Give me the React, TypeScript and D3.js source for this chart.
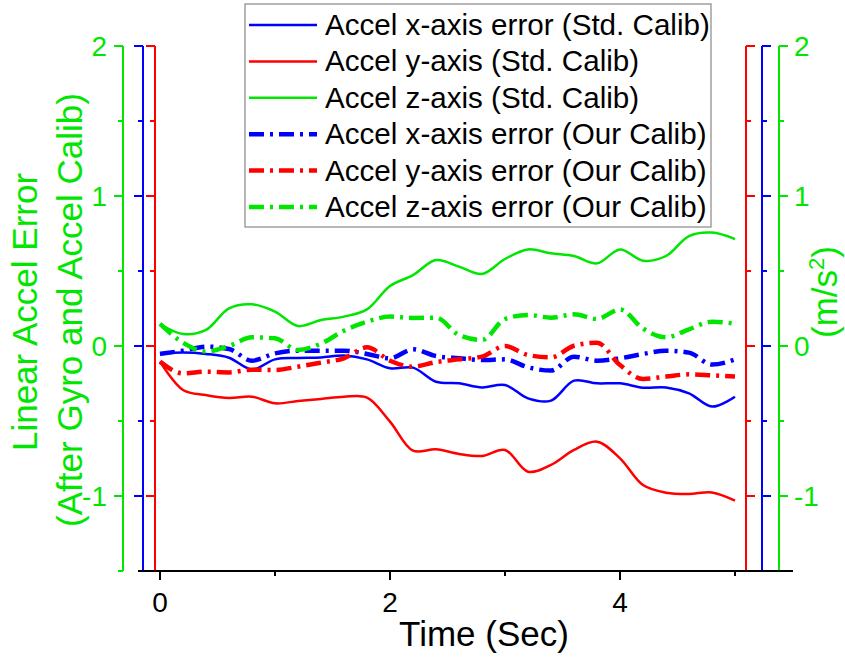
import React from "react";
import * as d3 from "d3";

const TIME = [0, 0.2, 0.4, 0.6, 0.8, 1.0, 1.2, 1.4, 1.6, 1.8, 2.0, 2.2, 2.4, 2.6, 2.8, 3.0, 3.2, 3.4, 3.6, 3.8, 4.0, 4.2, 4.4, 4.6, 4.8, 5.0];

const stdX = [-0.053, -0.044, -0.053, -0.078, -0.156, -0.089, -0.08, -0.076, -0.064, -0.089, -0.149, -0.144, -0.238, -0.249, -0.276, -0.26, -0.349, -0.364, -0.231, -0.249, -0.249, -0.278, -0.276, -0.316, -0.404, -0.338];
const stdY = [-0.104, -0.293, -0.327, -0.347, -0.338, -0.382, -0.367, -0.353, -0.338, -0.344, -0.504, -0.698, -0.689, -0.72, -0.733, -0.693, -0.838, -0.793, -0.693, -0.638, -0.749, -0.927, -0.978, -0.987, -0.976, -1.031];
const stdZ = [0.147, 0.08, 0.107, 0.251, 0.278, 0.229, 0.133, 0.173, 0.196, 0.244, 0.4, 0.473, 0.573, 0.529, 0.48, 0.58, 0.644, 0.618, 0.6, 0.551, 0.644, 0.569, 0.6, 0.733, 0.756, 0.713];
const ourX = [-0.053, -0.031, -0.004, -0.02, -0.098, -0.049, -0.031, -0.031, -0.031, -0.053, -0.082, -0.022, -0.067, -0.082, -0.093, -0.089, -0.142, -0.164, -0.071, -0.098, -0.082, -0.053, -0.031, -0.044, -0.124, -0.089];
const ourY = [-0.104, -0.182, -0.171, -0.176, -0.158, -0.16, -0.138, -0.111, -0.082, -0.009, -0.098, -0.138, -0.107, -0.089, -0.071, 0.0, -0.06, -0.076, 0.002, 0.022, -0.127, -0.22, -0.204, -0.189, -0.196, -0.204];
const ourZ = [0.147, 0.022, -0.036, 0.0, 0.058, 0.051, -0.027, 0.016, 0.102, 0.162, 0.196, 0.187, 0.189, 0.073, 0.04, 0.18, 0.207, 0.189, 0.211, 0.18, 0.244, 0.116, 0.058, 0.111, 0.162, 0.149];

const SERIES_LABELS = [
  "Accel x-axis error (Std. Calib)",
  "Accel y-axis (Std. Calib)",
  "Accel z-axis (Std. Calib)",
  "Accel x-axis error (Our Calib)",
  "Accel y-axis error (Our Calib)",
  "Accel z-axis error (Our Calib)",
];
const SERIES_VALUES = [stdX, stdY, stdZ, ourX, ourY, ourZ];

const Y_MAJOR = [-1, 0, 1, 2];
const Y_MINOR = [-1.5, -0.5, 0.5, 1.5];
const X_MAJOR = [0, 2, 4];
const X_MINOR = [1, 3, 5];

const BLUE = "#0000FF";
const RED = "#FF0000";
const GREEN = "#00E600";
const SERIES_COLORS = [BLUE, RED, GREEN, BLUE, RED, GREEN];
const DASHED = [false, false, false, true, true, true];

const FONT = "'Liberation Sans', Arial, Helvetica, sans-serif";

export default function App() {
  const W = 845;
  const H = 659;
  const x = d3.scaleLinear().domain([0, 5]).range([160, 735]);
  const y = d3.scaleLinear().domain([-1.5, 2]).range([571, 46]);

  const solidLine = d3
    .line<number>()
    .x((_, i) => x(TIME[i]))
    .y((d) => y(d))
    .curve(d3.curveCatmullRom.alpha(0.5));
  const dashLine = d3
    .line<number>()
    .x((_, i) => x(TIME[i]))
    .y((d) => y(d))
    .curve(d3.curveMonotoneX);

  const leftAxes = [
    { ax: 123, color: GREEN, labels: true },
    { ax: 143, color: BLUE, labels: false },
    { ax: 155, color: RED, labels: false },
  ];
  const rightAxes = [
    { ax: 746, color: RED, labels: false },
    { ax: 762, color: BLUE, labels: false },
    { ax: 779, color: GREEN, labels: true },
  ];

  const renderAxis = (a: { ax: number; color: string; labels: boolean }, dir: number, key: string) => (
    <g key={key}>
      <line x1={a.ax} x2={a.ax} y1={y(2)} y2={y(-1.5)} stroke={a.color} strokeWidth={2} />
      {Y_MAJOR.map((v) => (
        <line key={"M" + v} x1={a.ax} x2={a.ax + dir * 9} y1={y(v)} y2={y(v)} stroke={a.color} strokeWidth={2} />
      ))}
      {Y_MINOR.map((v) => (
        <line key={"m" + v} x1={a.ax} x2={a.ax + dir * 5} y1={y(v)} y2={y(v)} stroke={a.color} strokeWidth={2} />
      ))}
      {a.labels &&
        Y_MAJOR.map((v) => (
          <text
            key={"t" + v}
            x={dir < 0 ? a.ax - 16 : a.ax + 15}
            y={y(v) + 10}
            fill={a.color}
            fontSize={28}
            fontFamily={FONT}
            textAnchor={dir < 0 ? "end" : "start"}
          >
            {v < 0 ? "-" + Math.abs(v) : String(v)}
          </text>
        ))}
    </g>
  );

  const legendX = 245;
  const legendY = 4;
  const rowH = 36.4;

  return (
    <svg
      width={W}
      height={H}
      viewBox={`0 0 ${W} ${H}`}
      style={{ position: "absolute", left: 0, top: 0, background: "#fff" }}
    >
      <rect x={0} y={0} width={W} height={H} fill="#fff" />
      {leftAxes.map((a, i) => renderAxis(a, -1, "l" + i))}
      {rightAxes.map((a, i) => renderAxis(a, 1, "r" + i))}

      {/* bottom axis */}
      <line x1={138} x2={793} y1={571} y2={571} stroke="#000" strokeWidth={2} />
      {X_MAJOR.map((v) => (
        <g key={"x" + v}>
          <line x1={x(v)} x2={x(v)} y1={571} y2={580} stroke="#000" strokeWidth={2} />
          <text x={x(v)} y={612} textAnchor="middle" fontSize={28} fontFamily={FONT} fill="#000">
            {v}
          </text>
        </g>
      ))}
      {X_MINOR.map((v) => (
        <line key={"xm" + v} x1={x(v)} x2={x(v)} y1={571} y2={576} stroke="#000" strokeWidth={2} />
      ))}
      <text x={484} y={646} textAnchor="middle" fontSize={35} fontFamily={FONT} fill="#000">
        Time (Sec)
      </text>

      {/* left titles */}
      <text
        transform="translate(37,312) rotate(-90)"
        textAnchor="middle"
        fontSize={35}
        fontFamily={FONT}
        fill={GREEN}
      >
        Linear Accel Error
      </text>
      <text
        transform="translate(82,310) rotate(-90)"
        textAnchor="middle"
        fontSize={35}
        fontFamily={FONT}
        fill={GREEN}
      >
        (After Gyro and Accel Calib)
      </text>
      {/* right title */}
      <text
        transform="translate(837,292) rotate(-90)"
        textAnchor="middle"
        fontSize={35}
        fontFamily={FONT}
        fill={GREEN}
      >
        (m/s<tspan fontSize={22} dy={-13}>2</tspan>
        <tspan dy={13}>)</tspan>
      </text>

      {/* data lines */}
      {SERIES_VALUES.map((vals, i) => (
        <path
          key={"s" + i}
          d={(DASHED[i] ? dashLine(vals) : solidLine(vals)) || ""}
          fill="none"
          stroke={SERIES_COLORS[i]}
          strokeWidth={DASHED[i] ? 4.5 : 2.5}
          strokeLinejoin="round"
          strokeDasharray={DASHED[i] ? "15 6 3 6" : undefined}
        />
      ))}

      {/* legend */}
      <rect
        x={legendX}
        y={legendY}
        width={466}
        height={223}
        fill="#fff"
        stroke="#888"
        strokeWidth={1.2}
      />
      {SERIES_LABELS.map((lab, i) => {
        const cy = legendY + 21 + i * rowH;
        return (
          <g key={"lg" + i}>
            <line
              x1={249}
              x2={317}
              y1={cy}
              y2={cy}
              stroke={SERIES_COLORS[i]}
              strokeWidth={DASHED[i] ? 4.5 : 2.5}
              strokeDasharray={DASHED[i] ? "15 6 3 6" : undefined}
            />
            <text x={325} y={cy + 10} fontSize={29.6} fontFamily={FONT} fill="#000">
              {lab}
            </text>
          </g>
        );
      })}
    </svg>
  );
}
